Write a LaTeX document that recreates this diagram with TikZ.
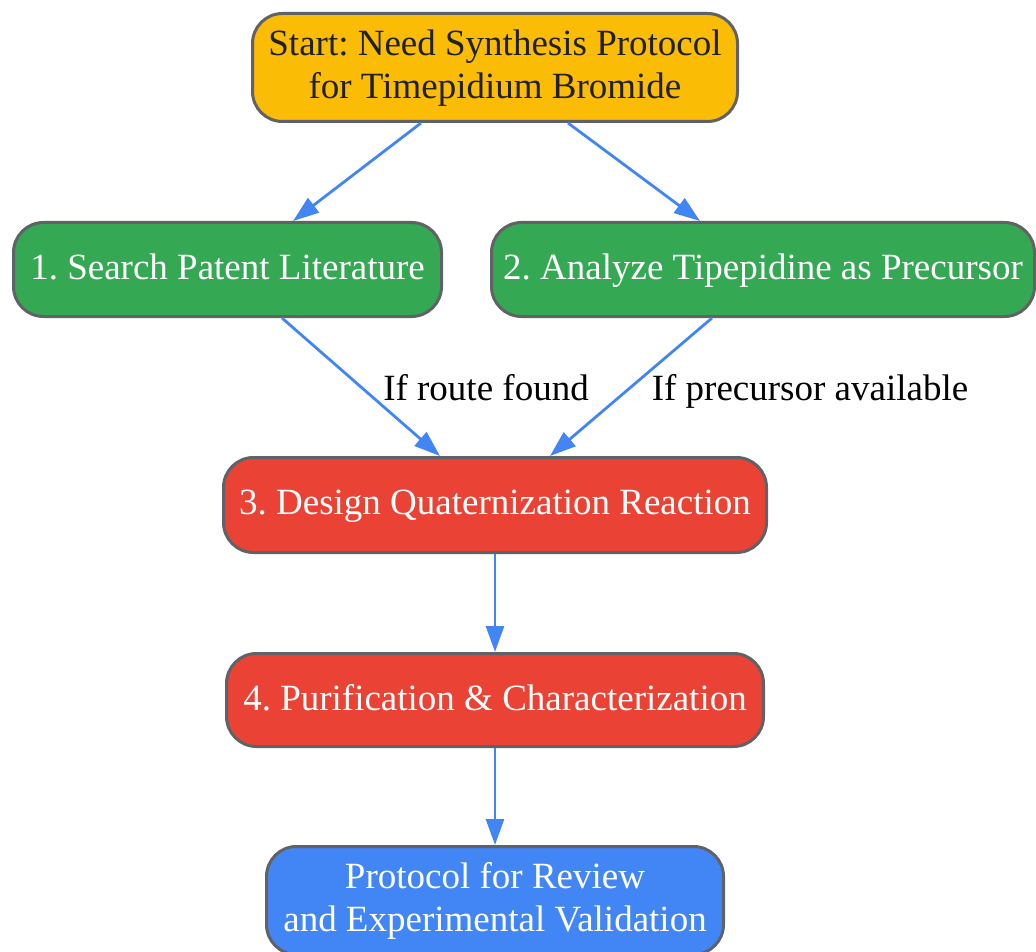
\documentclass[tikz,border=0pt]{standalone}
\usepackage{fontspec}
\setmainfont{Liberation Serif}
\usetikzlibrary{arrows.meta,calc}
\definecolor{gyellow}{HTML}{FBBC05}
\definecolor{ggreen}{HTML}{34A853}
\definecolor{gred}{HTML}{EA4335}
\definecolor{gblue}{HTML}{4285F4}
\definecolor{gborder}{HTML}{5F6368}
\definecolor{gdark}{HTML}{202124}
\newcommand\boxstrut{\rule[-7pt]{0pt}{34pt}}
\frenchspacing
\begin{document}
\begin{tikzpicture}[x=1pt,y=-1pt,
  box/.style={draw=gborder, line width=3pt, rounded corners=30pt, inner sep=0pt,
    align=center, font=\fontsize{37}{43.5}\selectfont},
  yellowbox/.style={box, fill=gyellow, text=gdark},
  greenbox/.style={box, fill=ggreen, text=white},
  redbox/.style={box, fill=gred, text=white},
  bluebox/.style={box, fill=gblue, text=white},
  conn/.style={draw=gblue, line width=2.8pt, -{Triangle[length=26pt,width=18pt]}},
  lbl/.style={inner sep=0pt, anchor=base, text=black, font=\fontsize{37}{43.5}\selectfont}]
\useasboundingbox (0,0) rectangle (1036,952);
\node[yellowbox, minimum width=485pt, minimum height=108pt] (start) at (495,67.5)
  {\boxstrut Start: Need Synthesis Protocol\\for Timepidium Bromide\boxstrut};
\node[greenbox, minimum width=428pt, minimum height=94pt] (n1) at (227.5,269.5)
  {\boxstrut 1. Search Patent Literature};
\node[greenbox, minimum width=543pt, minimum height=94pt] (n2) at (763,269.5)
  {\boxstrut 2. Analyze Tipepidine as Precursor};
\node[redbox, minimum width=543pt, minimum height=95pt] (n3) at (495,505)
  {\boxstrut 3. Design Quaternization Reaction};
\node[redbox, minimum width=537pt, minimum height=93pt] (n4) at (495,700)
  {\boxstrut 4. Purification \& Characterization};
\node[bluebox, minimum width=457pt, minimum height=108pt] (n5) at (495,900.5)
  {\boxstrut Protocol for Review\\and Experimental Validation\boxstrut};
\node[lbl] (l1) at (486,400) {If route found};
\node[lbl] (l2) at (810,400) {If precursor available};
\draw[conn] ($(start.south)+(-74,0)$) -- ($(n1.north)+(65.5,0)$);
\draw[conn] ($(start.south)+(73,0)$) -- ($(n2.north)+(-63,0)$);
\draw[conn] ($(n1.south)+(54.5,0)$) -- ($(n3.north)+(-55,0)$);
\draw[conn] ($(n2.south)+(-51,0)$) -- ($(n3.north)+(55,0)$);
\draw[conn] (n3.south) -- (n4.north);
\draw[conn] (n4.south) -- (n5.north);
\end{tikzpicture}
\end{document}
